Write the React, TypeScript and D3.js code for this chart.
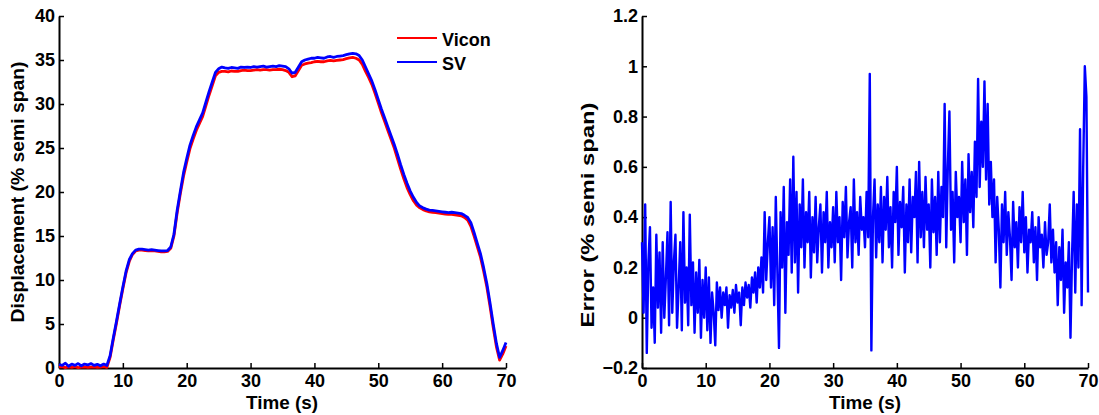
import React, { useEffect, useRef } from "react";
import * as d3 from "d3";

const WIDTH = 1099;
const HEIGHT = 415;

// displacement samples, one every 0.5 s from 0 to 70 s
const dispStep = 0.5;
const vicon = [
  0.1, 0.15, 0.05, 0.12, 0.08, 0.15, 0.05, 0.1, 0.12, 0.06,
  0.1, 0.14, 0.06, 0.1, 0.15, 0.08, 1.2, 3.2, 5.1, 7.1,
  9.0, 10.8, 12.1, 12.9, 13.3, 13.4, 13.4, 13.35, 13.3, 13.35,
  13.3, 13.25, 13.2, 13.2, 13.25, 13.6, 15.0, 17.6, 19.8, 21.8,
  23.4, 24.9, 26.0, 27.0, 27.8, 28.6, 29.8, 31.0, 32.1, 33.2,
  33.6, 33.7, 33.7, 33.65, 33.75, 33.7, 33.7, 33.8, 33.85, 33.8,
  33.8, 33.85, 33.9, 33.85, 33.9, 33.9, 33.85, 33.9, 33.9, 33.95,
  33.9, 33.8, 33.6, 33.1, 33.2, 33.8, 34.4, 34.55, 34.65, 34.7,
  34.8, 34.85, 34.8, 34.8, 34.9, 34.95, 34.9, 34.95, 35.0, 35.05,
  35.15, 35.25, 35.3, 35.2, 35.0, 34.5, 33.7, 33.0, 32.2, 31.2,
  30.1, 29.0, 28.0, 27.0, 26.0, 25.0, 23.8, 22.6, 21.5, 20.5,
  19.7, 19.0, 18.5, 18.2, 18.0, 17.85, 17.75, 17.7, 17.65, 17.6,
  17.55, 17.5, 17.45, 17.45, 17.4, 17.35, 17.3, 17.1, 16.8, 16.1,
  15.0, 13.8, 12.6, 11.0, 9.2, 7.0, 4.6, 2.4, 0.9, 1.6,
  2.5,
];
const sv = [
  0.4, 0.3, 0.55, 0.2, 0.45, 0.3, 0.5, 0.25, 0.45, 0.35,
  0.5, 0.3, 0.42, 0.25, 0.45, 0.3, 1.4, 3.4, 5.3, 7.3,
  9.2, 11.0, 12.3, 13.0, 13.4, 13.5, 13.5, 13.45, 13.4, 13.45,
  13.4, 13.35, 13.3, 13.3, 13.35, 13.75, 15.2, 17.9, 20.1, 22.2,
  23.8, 25.3, 26.4, 27.4, 28.2, 29.0, 30.2, 31.4, 32.5, 33.6,
  34.0, 34.2, 34.1, 34.05, 34.15, 34.1, 34.05, 34.2, 34.15, 34.2,
  34.15, 34.25, 34.2, 34.25, 34.3, 34.2, 34.25, 34.3, 34.25, 34.35,
  34.3, 34.25, 34.0, 33.5, 33.6, 34.2, 34.8, 35.0, 35.1, 35.2,
  35.2, 35.3, 35.25, 35.2, 35.35, 35.4, 35.3, 35.4, 35.45, 35.5,
  35.6, 35.7, 35.75, 35.7, 35.5, 35.0, 34.2, 33.4, 32.6, 31.6,
  30.5, 29.4, 28.4, 27.4, 26.4, 25.4, 24.3, 23.1, 22.0, 21.0,
  20.1, 19.4, 18.8, 18.4, 18.2, 18.05, 17.95, 17.9, 17.85, 17.8,
  17.75, 17.7, 17.65, 17.7, 17.65, 17.6, 17.55, 17.35, 17.1, 16.5,
  15.4, 14.2, 13.0, 11.4, 9.6, 7.4, 5.0, 2.8, 1.2, 2.0,
  2.9,
];

// error samples, one every 0.25 s from 0 to 70 s
const errStep = 0.25;
const errorVals = [
  0.3, 0.02, 0.45, -0.14, 0.22, 0.36, -0.04, 0.12, -0.1, 0.33, 0.04, 0.26, -0.06, 0.3, 0.0, 0.16, 0.34, -0.03, 0.46, 0.02,
  0.22, 0.33, -0.04, 0.12, 0.3, -0.05, 0.42, 0.06, 0.2, -0.03, 0.41, 0.05, 0.22, -0.06, 0.18, 0.02, 0.23, -0.08, 0.15, 0.0,
  0.2, -0.05, 0.16, -0.1, 0.1, 0.02, -0.11, 0.14, 0.03, 0.12, 0.0, 0.1, 0.05, 0.12, -0.04, 0.09, 0.04, 0.11, 0.02, 0.13,
  0.06, 0.1, -0.03, 0.12, 0.05, 0.14, 0.08, 0.13, 0.04, 0.16, 0.1, 0.18, 0.06, 0.2, 0.12, 0.24, 0.1, 0.42, 0.15, 0.3,
  0.4, 0.12, 0.36, 0.05, 0.48, 0.18, -0.12, 0.42, 0.2, 0.52, 0.02, 0.38, 0.25, 0.55, 0.18, 0.64, 0.22, 0.5, 0.1, 0.45,
  0.28, 0.55, 0.2, 0.42, 0.3, 0.5, 0.16, 0.4, 0.26, 0.48, 0.22, 0.36, 0.45, 0.18, 0.42, 0.3, 0.5, 0.2, 0.38, 0.28,
  0.44, 0.22, 0.5, 0.3, 0.4, 0.15, 0.46, 0.32, 0.52, 0.24, 0.38, 0.44, 0.2, 0.55, 0.3, 0.42, 0.25, 0.48, 0.35, 0.4,
  0.28, 0.5, 0.32, 0.97, -0.13, 0.4, 0.55, 0.24, 0.45, 0.3, 0.52, 0.22, 0.48, 0.35, 0.56, 0.28, 0.44, 0.2, 0.5, 0.38,
  0.6, 0.25, 0.46, 0.36, 0.52, 0.18, 0.45, 0.3, 0.55, 0.26, 0.48, 0.4, 0.58, 0.22, 0.62, 0.32, 0.5, 0.28, 0.56, 0.35,
  0.45, 0.2, 0.55, 0.34, 0.48, 0.25, 0.58, 0.3, 0.52, 0.4, 0.85, 0.28, 0.6, 0.82, 0.35, 0.5, 0.22, 0.58, 0.4, 0.48,
  0.3, 0.62, 0.38, 0.55, 0.25, 0.65, 0.42, 0.58, 0.36, 0.7, 0.48, 0.95, 0.52, 0.78, 0.6, 0.94, 0.55, 0.85, 0.45, 0.62,
  0.4, 0.55, 0.22, 0.48, 0.35, 0.12, 0.45, 0.3, 0.5, 0.25, 0.42, 0.32, 0.15, 0.46, 0.28, 0.38, 0.2, 0.44, 0.3, 0.5,
  0.26, 0.4, 0.18, 0.35, 0.3, 0.42, 0.22, 0.36, 0.15, 0.4, 0.28, 0.33, 0.2, 0.38, 0.25, 0.3, 0.45, 0.22, 0.35, 0.18,
  0.3, 0.05, 0.28, 0.15, 0.35, 0.02, 0.22, 0.12, 0.3, -0.08, 0.25, 0.5, 0.1, 0.45, 0.2, 0.75, 0.05, 0.6, 1.0, 0.88,
  0.1,
];

const timeTicks = [0, 10, 20, 30, 40, 50, 60, 70];
const dispTicks = [0, 5, 10, 15, 20, 25, 30, 35, 40];
const errTicks = [-0.2, 0, 0.2, 0.4, 0.6, 0.8, 1, 1.2];

const FONT = "'Liberation Sans', Arial, sans-serif";

const drawAxes = (svg, xScale, yScale, yTicks, yFormat, bottom, left) => {
  const xa = svg
    .append("g")
    .attr("transform", `translate(0, ${bottom})`)
    .call(
      d3.axisBottom(xScale).tickValues(timeTicks).tickSizeInner(-5).tickSizeOuter(0).tickPadding(6)
    );
  const ya = svg
    .append("g")
    .attr("transform", `translate(${left}, 0)`)
    .call(
      d3
        .axisLeft(yScale)
        .tickValues(yTicks)
        .tickFormat(yFormat)
        .tickSizeInner(-5)
        .tickSizeOuter(0)
        .tickPadding(4)
    );
  [xa, ya].forEach((a) => {
    a.select(".domain").attr("stroke", "#000").attr("stroke-width", 2);
    a.selectAll(".tick line").attr("stroke", "#000").attr("stroke-width", 1.5);
    a.selectAll(".tick text")
      .attr("fill", "#000")
      .style("font-family", FONT)
      .style("font-weight", "bold")
      .style("font-size", "18px");
  });
};

const App = () => {
  const svgRef = useRef(null);

  useEffect(() => {
    const svg = d3.select(svgRef.current);
    svg.selectAll("*").remove();

    const top = 16;
    const bottom = 368;

    // left panel: displacement
    const x1 = d3.scaleLinear().domain([0, 70]).range([59, 506]);
    const y1 = d3.scaleLinear().domain([0, 40]).range([bottom, top]);
    drawAxes(svg, x1, y1, dispTicks, d3.format("d"), bottom, 59);

    const line1 = d3
      .line()
      .x((d, i) => x1(i * dispStep))
      .y((d) => y1(d));

    svg
      .append("path")
      .datum(vicon)
      .attr("fill", "none")
      .attr("stroke", "#ff0000")
      .attr("stroke-width", 2.8)
      .attr("stroke-linejoin", "round")
      .attr("d", line1);
    svg
      .append("path")
      .datum(sv)
      .attr("fill", "none")
      .attr("stroke", "#0000ff")
      .attr("stroke-width", 2.8)
      .attr("stroke-linejoin", "round")
      .attr("d", line1);

    // legend
    const legend = [
      { name: "Vicon", color: "#ff0000", y: 38 },
      { name: "SV", color: "#0000ff", y: 62 },
    ];
    legend.forEach((l) => {
      svg
        .append("line")
        .attr("x1", 397)
        .attr("x2", 437)
        .attr("y1", l.y)
        .attr("y2", l.y)
        .attr("stroke", l.color)
        .attr("stroke-width", 2);
      svg
        .append("text")
        .attr("x", 442)
        .attr("y", l.y + 8)
        .text(l.name)
        .style("font-family", FONT)
        .style("font-weight", "bold")
        .style("font-size", "18px");
    });

    // right panel: error
    const x2 = d3.scaleLinear().domain([0, 70]).range([642, 1088]);
    const y2 = d3.scaleLinear().domain([-0.2, 1.2]).range([bottom, top]);
    drawAxes(svg, x2, y2, errTicks, (d) => (d === 0 || d === 1 ? String(d) : d3.format(".1f")(d)), bottom, 642);

    const line2 = d3
      .line()
      .x((d, i) => x2(i * errStep))
      .y((d) => y2(d));
    svg
      .append("path")
      .datum(errorVals)
      .attr("fill", "none")
      .attr("stroke", "#0000ff")
      .attr("stroke-width", 2.4)
      .attr("stroke-linejoin", "round")
      .attr("d", line2);

    // axis labels
    const label = (x, y, txt, len, rotate) => {
      svg
        .append("text")
        .attr("transform", `translate(${x}, ${y})${rotate ? " rotate(-90)" : ""}`)
        .attr("text-anchor", "middle")
        .attr("textLength", len)
        .attr("lengthAdjust", "spacingAndGlyphs")
        .text(txt)
        .style("font-family", FONT)
        .style("font-weight", "bold")
        .style("font-size", "19px");
    };
    label(282, 409, "Time (s)", 72, false);
    label(865, 409, "Time (s)", 72, false);
    label(24, 192, "Displacement (% semi span)", 261, true);
    label(594, 215, "Error (% semi span)", 225, true);
  }, []);

  return (
    <svg
      ref={svgRef}
      width={WIDTH}
      height={HEIGHT}
      style={{ position: "absolute", left: 0, top: 0, background: "#fff" }}
    />
  );
};

export default App;
